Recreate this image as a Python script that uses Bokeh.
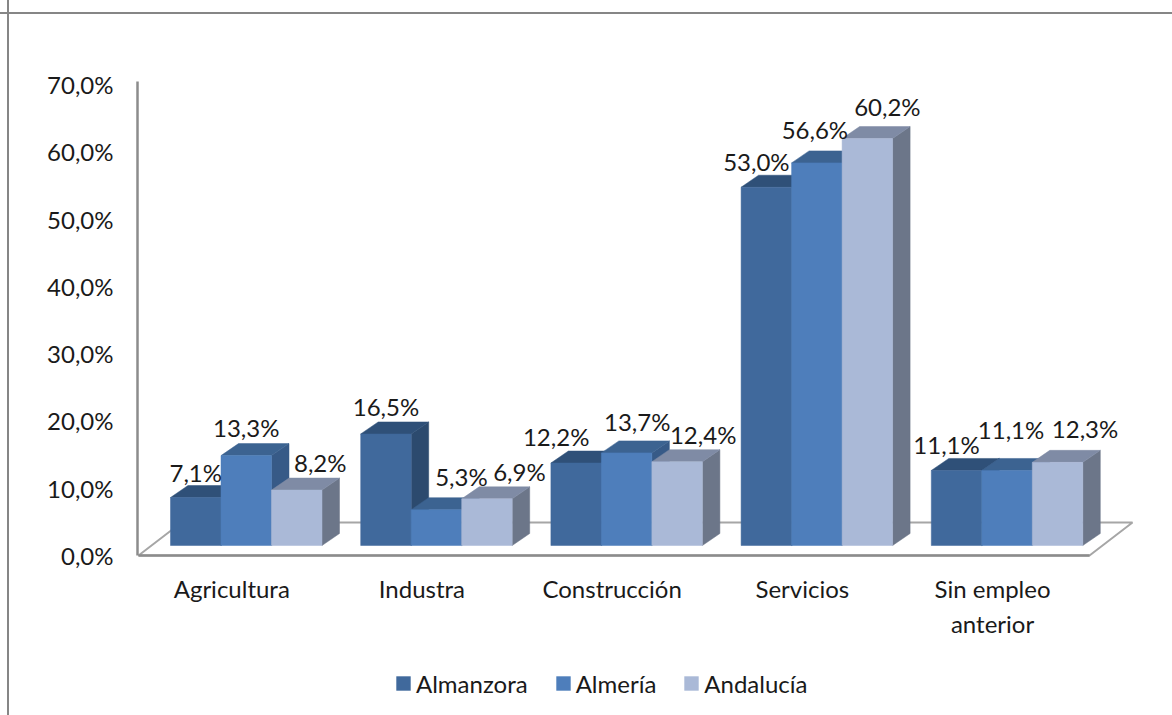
from bokeh.plotting import figure
from bokeh.layouts import column
from bokeh.models import (Range1d, LinearAxis, FixedTicker, Legend, LegendItem,
                          ColumnDataSource)
from bokeh.core.properties import value
from bokeh.embed import file_html
from bokeh.resources import INLINE

categories = ["Agricultura", "Industra", "Construcción", "Servicios", "Sin empleo\nanterior"]
series_names = ["Almanzora", "Almería", "Andalucía"]
almanzora = [7.1, 16.5, 12.2, 53.0, 11.1]
almeria = [13.3, 5.3, 13.7, 56.6, 11.1]
andalucia = [8.2, 6.9, 12.4, 60.2, 12.3]
y_ticks = [0, 10, 20, 30, 40, 50, 60, 70]
y_tick_labels = ["0,0%", "10,0%", "20,0%", "30,0%", "40,0%", "50,0%", "60,0%", "70,0%"]

# styling
FONT = "Lato"
FS = "24px"
TEXT = "#1a1a1a"
BORDER = "#868686"
front = ["#40699C", "#4E7EBB", "#AAB9D7"]
top_c = ["#2F5078", "#3C6391", "#7F8BA5"]
side_c = ["#2C4A6E", "#375A87", "#6C7689"]
label_dx = [[0, 0, 23.5], [0, 25, 32.5], [-20, 10.6, 26], [-10, -2, 20], [-10, 4, 27.5]]
label_dy = [[-25, -28, -27.6], [-27.5, -33, -27], [-26.5, -31, -27], [-26, -33, -32], [-26, -41, -34]]

W, H = 1172, 715
H1 = 660
F_L, F_R, F_T, F_B = 137, 1140, 81, 557   # plot frame in page px
PERIOD = 190.2
CX0 = 245.75
AX_PX = 6.729
BAR_PX = 6.76
BAR_BASE = 545


def gx(px):
    return (px - CX0) / PERIOD


p = figure(width=W, height=H1, output_backend="svg", toolbar_location=None,
           x_range=Range1d(gx(F_L), gx(F_R)),
           y_range=Range1d((555 - F_B) / AX_PX, (555 - F_T) / AX_PX),
           x_axis_location=None, y_axis_location=None,
           min_border_left=F_L, min_border_right=W - F_R,
           min_border_top=F_T, min_border_bottom=H1 - F_B)
p.outline_line_color = None
p.grid.visible = False
p.background_fill_color = None
p.border_fill_color = None

shift = 14.5 / PERIOD
p.extra_x_ranges["labels"] = Range1d(gx(F_L) + shift, gx(F_R) + shift)
p.extra_y_ranges["bars"] = Range1d((BAR_BASE - F_B) / BAR_PX, (BAR_BASE - F_T) / BAR_PX)

# y axis
ya = LinearAxis(ticker=FixedTicker(ticks=y_ticks),
                major_label_overrides=dict(zip(y_ticks, y_tick_labels)),
                bounds=(0, (555 - 81) / AX_PX),
                axis_line_color="#8C8C8C", axis_line_width=2.5,
                major_tick_line_color=None, minor_tick_line_color=None,
                major_label_standoff=18,
                major_label_text_font=FONT, major_label_text_font_size=FS,
                major_label_text_color=TEXT)
p.add_layout(ya, "left")

# x axis
xa = LinearAxis(x_range_name="labels", ticker=FixedTicker(ticks=list(range(len(categories)))),
                major_label_overrides=dict(enumerate(categories)),
                axis_line_color=None,
                major_tick_line_color=None, minor_tick_line_color=None,
                major_label_standoff=10,
                major_label_text_font=FONT, major_label_text_font_size=FS,
                major_label_text_color=TEXT, major_label_text_line_height=1.22)
p.add_layout(xa, "below")

# floor
FLOOR_H = 33 / AX_PX
p.patch([gx(138), gx(1089), gx(1132), gx(181)], [0, 0, FLOOR_H, FLOOR_H],
        fill_color="white", line_color="#A6A6A6", line_width=2)
p.line([gx(138), gx(1089)], [0, 0], line_color="#8C8C8C", line_width=2.5)

BW = 50.5 / PERIOD
DX = 17.5 / PERIOD
DY = 12 / BAR_PX
series = [almanzora, almeria, andalucia]
for s, vals in enumerate(series):
    xc = [i + (s - 1) * BW for i in range(len(vals))]
    side_xs, side_ys, top_xs, top_ys = [], [], [], []
    for x, v in zip(xc, vals):
        xl, xr = x - BW / 2, x + BW / 2
        side_xs.append([xr, xr + DX, xr + DX, xr])
        side_ys.append([0, DY, v + DY, v])
        top_xs.append([xl, xr, xr + DX, xl + DX])
        top_ys.append([v, v, v + DY, v + DY])
    p.patches(side_xs, side_ys, y_range_name="bars", fill_color=side_c[s], line_color=side_c[s], line_width=0.5)
    p.patches(top_xs, top_ys, y_range_name="bars", fill_color=top_c[s], line_color=top_c[s], line_width=0.5)
    p.vbar(x=xc, width=BW, bottom=0, top=vals, y_range_name="bars",
           fill_color=front[s], line_color=front[s], line_width=0.5)

# data labels
for s, vals in enumerate(series):
    src = ColumnDataSource(dict(
        x=[i + (s - 1) * BW for i in range(len(vals))],
        y=vals,
        t=[f"{v:.1f}%".replace(".", ",") for v in vals],
        dx=[label_dx[i][s] for i in range(len(vals))],
        dy=[label_dy[i][s] for i in range(len(vals))],
    ))
    p.text("x", "y", "t", source=src, y_range_name="bars", x_offset="dx", y_offset="dy",
           text_align="center", text_baseline="middle",
           text_font=value(FONT), text_font_size=value(FS), text_color=TEXT)

# legend strip (its frame lines up with the main frame's left edge inside the column)
p2 = figure(width=W, height=H - H1, output_backend="svg", toolbar_location=None,
            x_range=Range1d(0, 1), y_range=Range1d(0, 1),
            x_axis_location=None, y_axis_location=None,
            min_border_left=0, min_border_right=0, min_border_top=0, min_border_bottom=0)
p2.outline_line_color = None
p2.grid.visible = False
p2.background_fill_color = None
p2.border_fill_color = None
items = []
for s, n in enumerate(series_names):
    # the key's glyph only: a bar of no size
    r = p2.vbar(x=[0.5], width=0, bottom=[0], top=[0], fill_color=front[s], line_color=None)
    items.append(LegendItem(label=n, renderers=[r]))
legend = Legend(items=items, orientation="horizontal", location=(394 - F_L, 17.5),
                glyph_width=18, glyph_height=18, label_standoff=4, spacing=26,
                padding=0, margin=0, border_line_color=None, background_fill_color=None,
                label_text_font=FONT, label_text_font_size=FS, label_text_color=TEXT,
                label_height=14)
p2.add_layout(legend, "center")

page = column(p, p2, spacing=0, styles={
    "background-image": f"linear-gradient({BORDER},{BORDER}),linear-gradient({BORDER},{BORDER})",
    "background-size": "100% 2px,2px 100%",
    "background-position": "0 12px,7px 0",
    "background-repeat": "no-repeat",
})

open("out.html", "w").write(file_html(page, INLINE))
